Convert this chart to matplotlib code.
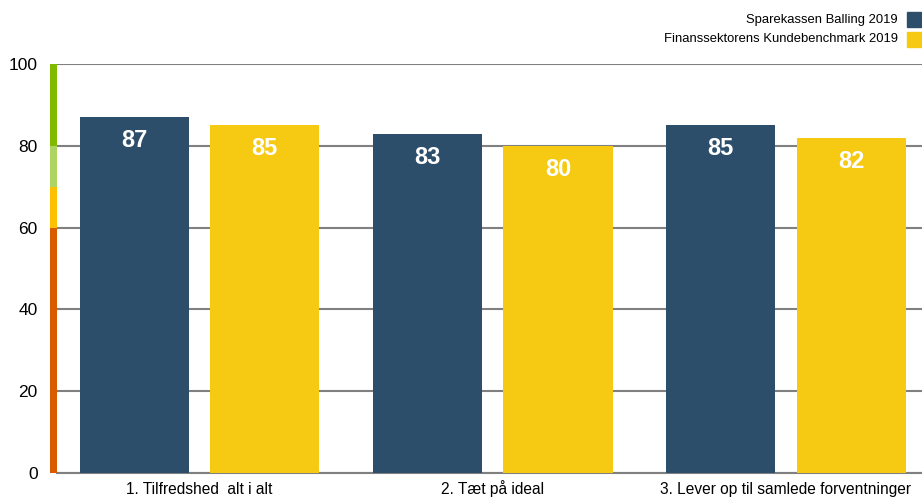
import numpy as np
import matplotlib.pyplot as plt
from matplotlib.patches import Rectangle
import matplotlib.transforms as mtransforms

plt.rcParams['font.family'] = ['Liberation Sans', 'DejaVu Sans']

categories = ["1. Tilfredshed  alt i alt", "2. Tæt på ideal", "3. Lever op til samlede forventninger"]
balling = [87, 83, 85]
benchmark = [85, 80, 82]
series_names = ["Sparekassen Balling 2019", "Finanssektorens Kundebenchmark 2019"]
yticks = [0, 20, 40, 60, 80, 100]
# score bands shown on the left edge
bands = [(0, 60, '#D95B00'), (60, 70, '#FFC000'), (70, 80, '#AED461'), (80, 100, '#7FBA00')]

navy = '#2D4E6B'
yellow = '#F6C913'

fig = plt.figure(figsize=(9.22, 5.01), dpi=100)
ax = fig.add_axes([57/922, 1-473/501, 1-57/922, (473-64)/501])

x = np.arange(len(categories))
w = 0.373
off = 0.2225
b1 = ax.bar(x - off, balling, w, color=navy, zorder=3)
b2 = ax.bar(x + off, benchmark, w, color=yellow, zorder=3)

for bars in (b1, b2):
    for r in bars:
        ax.annotate(f"{r.get_height():.0f}", (r.get_x() + r.get_width()/2, r.get_height()),
                    xytext=(0, -17), textcoords='offset points', ha='center', va='center',
                    color='white', fontsize=17, fontweight='bold', zorder=4)

ax.set_ylim(0, 100)
ax.set_xlim(-0.486, 2.464)
ax.set_yticks(yticks)
ax.set_xticks(x)
ax.set_xticklabels(categories, fontsize=11.2)
for lab in ax.get_xticklabels():
    lab.set_verticalalignment('baseline')
ax.tick_params(axis='y', length=0, pad=14, labelsize=12.5)
ax.tick_params(axis='x', length=0, pad=15)
ax.yaxis.grid(True, color='#808080', linewidth=1.5, zorder=0)
ax.set_axisbelow(True)
for s in ['top', 'right', 'left']:
    ax.spines[s].set_visible(False)
ax.spines['bottom'].set_color('#808080')
ax.spines['bottom'].set_linewidth(1.5)

trans = mtransforms.blended_transform_factory(ax.transAxes, ax.transData)
for lo, hi, c in bands:
    ax.add_patch(Rectangle((-7/865, lo), 7/865, hi - lo, transform=trans,
                           color=c, clip_on=False, zorder=5, linewidth=0))

# legend in the top right corner
for i, (name, c) in enumerate(zip(series_names, [navy, yellow])):
    ytop = 12 + i * 20
    fig.patches.append(Rectangle((907/922, 1 - (ytop + 15)/501), 14/922, 15/501,
                                 transform=fig.transFigure, color=c, figure=fig))
    fig.text(898/922, 1 - (ytop + 7.5)/501, name, ha='right', va='center', fontsize=9.4)

fig.savefig('out.png', dpi=100)
